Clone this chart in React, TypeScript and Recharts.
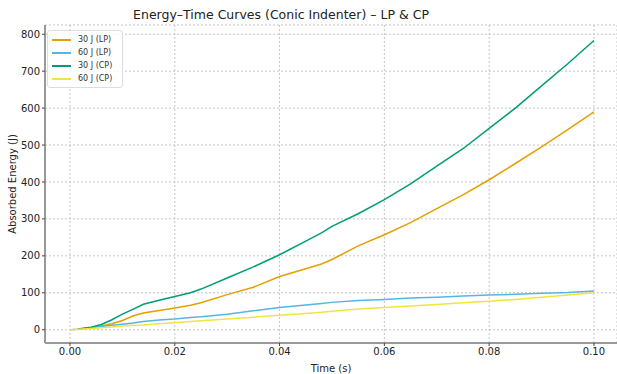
import { LineChart, Line, XAxis, YAxis, CartesianGrid } from 'recharts';

// Time samples (s) shared by all four curves
const times = [0, 0.0015, 0.004, 0.006, 0.008, 0.01, 0.012, 0.014, 0.017, 0.02, 0.023, 0.025, 0.03, 0.035, 0.04, 0.045, 0.048, 0.05, 0.055, 0.06, 0.065, 0.07, 0.075, 0.08, 0.085, 0.09, 0.095, 0.1];

// Absorbed energy (J) per impact case
const lp30 = [null, 1, 5, 10, 16, 25, 37, 45, 52, 59, 66, 73, 95, 115, 144, 165, 178, 190, 227, 257, 290, 328, 365, 406, 450, 495, 542, 590];
const lp60 = [0, 1, 5, 9, 12, 15, 18, 22, 26, 29, 33, 35, 42, 51, 60, 67, 71, 74, 79, 82, 86, 88, 91, 94, 96, 99, 101, 105];
const cp30 = [null, 2, 7, 14, 27, 42, 55, 69, 80, 90, 100, 110, 140, 170, 203, 240, 262, 280, 314, 352, 395, 443, 490, 545, 600, 660, 720, 783];
const cp60 = [0, 1, 3, 5, 7, 10, 12, 13, 16, 19, 22, 24, 29, 34, 39, 44, 47, 50, 56, 60, 64, 68, 73, 77, 82, 88, 94, 100];

const xTicks = [0, 0.02, 0.04, 0.06, 0.08, 0.1];
const yTicks = [0, 100, 200, 300, 400, 500, 600, 700, 800];

const series = [
  { key: 'lp30', name: '30 J (LP)', color: '#E69F00' },
  { key: 'lp60', name: '60 J (LP)', color: '#56B4E9' },
  { key: 'cp30', name: '30 J (CP)', color: '#009E73' },
  { key: 'cp60', name: '60 J (CP)', color: '#F0E442' },
];

const data = times.map((t, i) => ({
  t,
  lp30: lp30[i],
  lp60: lp60[i],
  cp30: cp30[i],
  cp60: cp60[i],
}));

const font = 'DejaVu Sans, sans-serif';

// legend drawn as an overlay so it doesn't eat into the plot area
function LegendBox() {
  return (
    <div
      style={{
        position: 'absolute',
        left: 47,
        top: 30,
        background: 'rgba(255,255,255,0.85)',
        border: '1px solid #ddd',
        borderRadius: 3,
        padding: '2px 10px 2px 4px',
        fontFamily: font,
        fontSize: 8,
        lineHeight: '13px',
        color: '#333',
        whiteSpace: 'nowrap',
      }}
    >
      {series.map((s) => (
        <div key={s.key} style={{ display: 'flex', alignItems: 'center', height: 13 }}>
          <span style={{ display: 'inline-block', width: 19, height: 2, background: s.color, marginRight: 7 }} />
          <span>{s.name}</span>
        </div>
      ))}
    </div>
  );
}

export default function App() {
  return (
    <div style={{ position: 'absolute', left: 0, top: 0, width: 617, height: 374, background: '#fff', fontFamily: font }}>
      <div
        style={{
          position: 'absolute',
          left: 281,
          top: 7,
          transform: 'translateX(-50%)',
          fontSize: 12.5,
          color: '#222',
          whiteSpace: 'nowrap',
        }}
      >
        Energy–Time Curves (Conic Indenter) – LP &amp; CP
      </div>
      <LineChart width={617} height={374} data={data} margin={{ top: 25, right: 0, bottom: 0, left: 0 }}>
        <CartesianGrid stroke="#c4c4c4" strokeDasharray="2 2" />
        <XAxis
          dataKey="t"
          type="number"
          domain={[-0.00477, 0.1044]}
          ticks={xTicks}
          tickFormatter={(v: number) => v.toFixed(2)}
          height={31}
          allowDataOverflow
          stroke="#999"
          strokeWidth={2}
          tickLine={{ stroke: '#444', strokeWidth: 1 }}
          tickSize={3}
          tick={{ fontSize: 10, fill: '#222', fontFamily: font }}
          label={{ value: 'Time (s)', position: 'insideBottom', offset: 2, fontSize: 10, fill: '#222', fontFamily: font }}
        />
        <YAxis
          type="number"
          domain={[-36, 825]}
          ticks={yTicks}
          width={45}
          allowDataOverflow
          stroke="#999"
          strokeWidth={2}
          tickLine={{ stroke: '#444', strokeWidth: 1 }}
          tickSize={3}
          tick={{ fontSize: 10, fill: '#222', fontFamily: font }}
          label={{ value: 'Absorbed Energy (J)', angle: -90, position: 'insideLeft', offset: 12, fontSize: 10, fill: '#222', fontFamily: font, style: { textAnchor: 'middle' } }}
        />
        {series.map((s) => (
          <Line
            key={s.key}
            dataKey={s.key}
            name={s.name}
            type="linear"
            stroke={s.color}
            strokeWidth={1.5}
            dot={false}
            connectNulls
            isAnimationActive={false}
          />
        ))}
      </LineChart>
      <LegendBox />
    </div>
  );
}
